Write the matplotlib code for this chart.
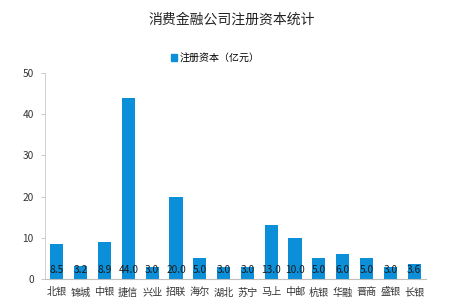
import matplotlib
matplotlib.use("Agg")
import matplotlib.pyplot as plt
from matplotlib.patches import Patch

plt.rcParams['font.family'] = ['Noto Sans CJK SC', 'DejaVu Sans']

categories = ['北银', '锦城', '中银', '捷信', '兴业', '招联', '海尔', '湖北',
              '苏宁', '马上', '中邮', '杭银', '华融', '晋商', '盛银', '长银']
values = [8.5, 3.2, 8.9, 44.0, 3.0, 20.0, 5.0, 3.0, 3.0, 13.0, 10.0, 5.0, 6.0, 5.0, 3.0, 3.6]
yticks = [0, 10, 20, 30, 40, 50]

color = '#0A8FD8'
fig = plt.figure(figsize=(4.5, 3.07), dpi=100)
ax = fig.add_axes([45/450, 1-279/307, 381/450, 206/307])

x = range(len(categories))
ax.bar(x, values, width=0.55, color=color, zorder=2)
for xi, v in zip(x, values):
    ax.text(xi, 1.0, f'{v:.1f}', ha='center', va='bottom', fontsize=7.3, color='#1a1a1a', zorder=3)

ax.set_xlim(-0.5, len(categories)-0.5)
ax.set_ylim(0, 50)
ax.set_yticks(yticks)
ax.set_xticks(list(x))
ax.set_xticklabels(categories, fontsize=7.3)
ax.tick_params(axis='x', length=0, pad=6, colors='#333333')
ax.tick_params(axis='y', length=3, width=0.6, color='#bfbfbf', labelsize=7.3, pad=5, labelcolor='#333333')
for s in ['top', 'right']:
    ax.spines[s].set_visible(False)
ax.spines['left'].set_color('#d0d0d0')
ax.spines['left'].set_linewidth(0.7)
ax.spines['bottom'].set_color('#bfbfbf')
ax.spines['bottom'].set_linewidth(0.8)

fig.text(0.515, 1-20/307, '消费金融公司注册资本统计', ha='center', va='center', fontsize=10, color='#222222')
fig.legend(handles=[Patch(color=color, label='注册资本（亿元）')], loc='center',
           bbox_to_anchor=(0.478, 1-58/307), frameon=False, fontsize=7.2,
           handlelength=0.6, handleheight=0.6, handletextpad=0.3)

fig.savefig('out.png', dpi=100, facecolor='white')
